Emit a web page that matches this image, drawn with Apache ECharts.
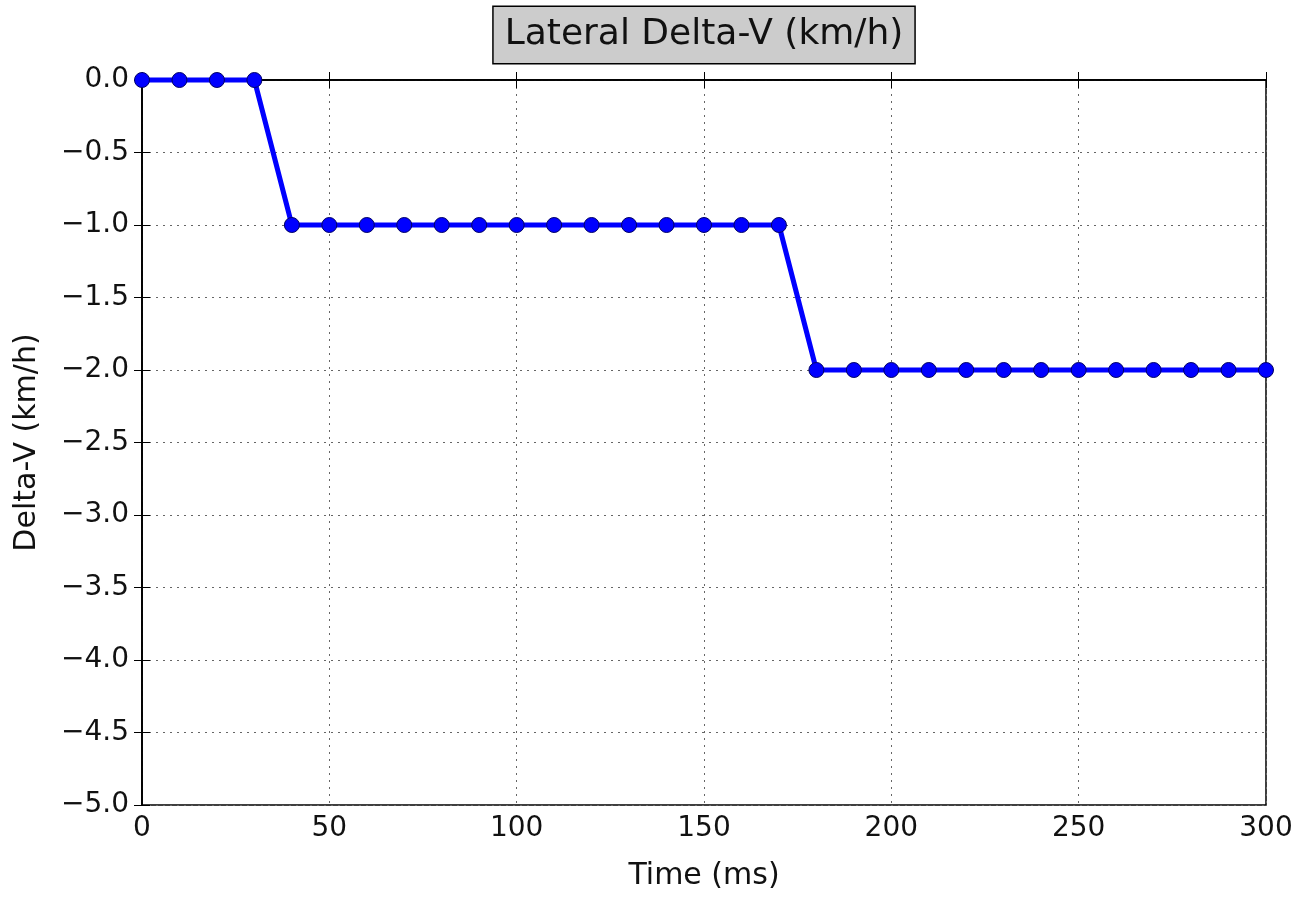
<!DOCTYPE html>
<html><head><meta charset="utf-8">
<script src="https://cdn.jsdelivr.net/npm/echarts@6/dist/echarts.min.js"></script>
<style>html,body{margin:0;padding:0;background:#fff}#c{width:1304px;height:897px}</style>
</head><body><div id="c"></div>
<script>
const timeMs = [0,10,20,30,40,50,60,70,80,90,100,110,120,130,140,150,160,170,180,190,200,210,220,230,240,250,260,270,280,290,300];
const deltaV = [0,0,0,0,-1,-1,-1,-1,-1,-1,-1,-1,-1,-1,-1,-1,-1,-1,-2,-2,-2,-2,-2,-2,-2,-2,-2,-2,-2,-2,-2];
const titleText = 'Lateral Delta-V (km/h)';
const xName = 'Time (ms)';
const yName = 'Delta-V (km/h)';

const FONT = 'DejaVu Sans';
const chart = echarts.init(document.getElementById('c'), null, {renderer:'canvas'});
const fmtY = v => (v < 0 ? '\u2212' : '') + Math.abs(v).toFixed(1);
const axisLine = {show:true, lineStyle:{color:'#000', width:1.5}};
const tick = {show:true, inside:true, length:8, lineStyle:{color:'#000', width:1}};
const grid = {show:true, lineStyle:{color:'#666', type:[2,5], width:1}};
chart.setOption({
  animation:false,
  backgroundColor:'#fff',
  grid:{left:142, right:38, top:80, bottom:92, show:true, borderColor:'#000', borderWidth:1.5, backgroundColor:'#fff'},
  graphic:[{
    type:'text', x:704, y:7,
    style:{text:titleText, align:'center', verticalAlign:'top', font:'36px "DejaVu Sans"', fill:'#111',
      backgroundColor:'#cccccc', borderColor:'#000', borderWidth:1.5, padding:[10,11,10,11]}
  }],
  xAxis:[{
    type:'value', min:0, max:300, interval:50, position:'bottom',
    name:xName, nameLocation:'middle', nameGap:56,
    nameTextStyle:{fontFamily:FONT, fontSize:30, color:'#111'},
    axisLine, axisTick:tick, splitLine:grid,
    axisLabel:{fontFamily:FONT, fontSize:28, color:'#111', margin:10}
  },{
    type:'value', min:0, max:300, interval:50, position:'top',
    axisLine, axisTick:tick, splitLine:{show:false}, axisLabel:{show:false}
  }],
  yAxis:[{
    type:'value', min:-5, max:0, interval:0.5, position:'left',
    name:yName, nameLocation:'middle', nameGap:100, nameRotate:90,
    nameTextStyle:{fontFamily:FONT, fontSize:30, color:'#111'},
    axisLine, axisTick:tick, splitLine:grid,
    axisLabel:{fontFamily:FONT, fontSize:28, color:'#111', margin:13, formatter:fmtY}
  },{
    type:'value', min:-5, max:0, interval:0.5, position:'right',
    axisLine, axisTick:tick, splitLine:{show:false}, axisLabel:{show:false}
  }],
  series:[{
    type:'line', data:timeMs.map((t,i)=>[t, deltaV[i]]),
    symbol:'circle', symbolSize:15, clip:false,
    lineStyle:{color:'#0000ff', width:5},
    itemStyle:{color:'#0000ff', borderColor:'#000066', borderWidth:1}
  }]
});
</script></body></html>
